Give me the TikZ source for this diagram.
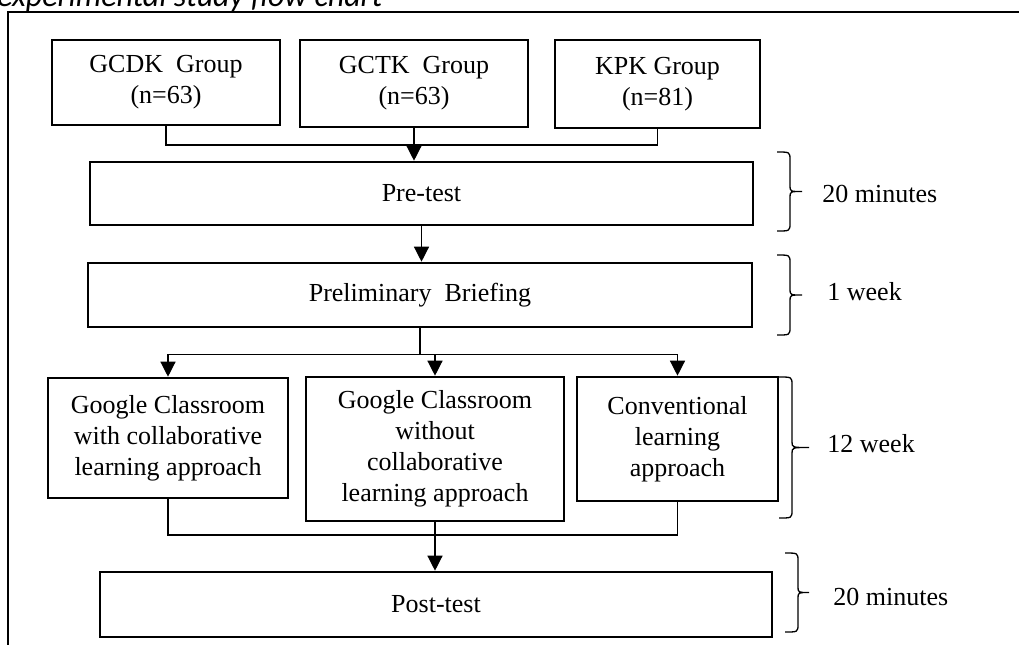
\documentclass[tikz,border=0pt]{standalone}
\usepackage{fontspec}
\setmainfont{Liberation Serif}
\newfontfamily\captionfont{Carlito}
\usepackage{tikz}
\usetikzlibrary{arrows.meta}
\newcommand{\timebrace}[4]{%
  \pgfmathsetmacro\bx{#1+13}\pgfmathsetmacro\bm{(#2+#3)/2}%
  \pgfmathsetmacro\ba{#2+8}\pgfmathsetmacro\bb{\bm-6}%
  \pgfmathsetmacro\bc{\bm+6}\pgfmathsetmacro\bd{#3-8}%
  \draw[line width=0.65pt] (#1,#2) .. controls (\bx,#2) .. (\bx,\ba) -- (\bx,\bb)
    .. controls (\bx,\bm) .. (#4,\bm) .. controls (\bx,\bm) .. (\bx,\bc) -- (\bx,\bd)
    .. controls (\bx,#3) .. (#1,#3);}

\begin{document}
\begin{tikzpicture}[x=0.5pt,y=-0.5pt,>={Triangle[length=7.5pt,width=7.5pt]},
  box/.style={draw,line width=1.3pt,inner sep=0pt,align=center,font=\fontsize{13}{15.5}\selectfont},
  link/.style={line width=0.65pt},
  durlabel/.style={anchor=west,inner sep=1pt,font=\fontsize{13}{15}\selectfont}]
  \useasboundingbox (0,0) rectangle (1019,644);
  \draw[line width=1pt] (8,660) -- (8,12) -- (1030,12);
  \node[anchor=base west,inner sep=0pt,font=\captionfont\itshape\fontsize{16}{18}\selectfont] (title) at (-3,6) {experimental study flow chart};

  \node[box,minimum width=114pt,minimum height=42.5pt] (gcdk) at (166,82.5) {GCDK~~Group\\(n=63)};
  \node[box,minimum width=114pt,minimum height=43.5pt] (gctk) at (414,83.5) {GCTK~~Group\\(n=63)};
  \node[box,minimum width=102.5pt,minimum height=44pt] (kpk) at (657.5,84) {KPK Group\\(n=81)};
  \node[box,minimum width=331.5pt,minimum height=31.5pt] (pre) at (421.5,193.5) {Pre-test};
  \node[box,minimum width=332pt,minimum height=32pt] (brief) at (420,295) {Preliminary~~Briefing};
  \node[box,minimum width=120pt,minimum height=60pt] (gcw) at (168,438) {Google Classroom\\with collaborative\\learning approach};
  \node[box,minimum width=129pt,minimum height=72pt] (gcwo) at (435,449) {Google Classroom\\without\\collaborative\\learning approach};
  \node[box,minimum width=100.5pt,minimum height=62pt] (conv) at (677.5,439) {Conventional\\learning\\approach};
  \node[box,minimum width=336pt,minimum height=32.5pt] (post) at (436,604.5) {Post-test};

  \coordinate (join) at (414,145);
  \coordinate (merge) at (436,535);
  \draw[link] (gcdk.south) |- (join) -| (kpk.south);
  \draw[link,->] (gctk.south) -- (gctk.south |- pre.north);
  \draw[link,->] (pre.south) -- (pre.south |- brief.north);
  \draw[link] (brief.south) -- ++(0,26) coordinate (split);
  \draw[link,->] (split) -| (gcw.north);
  \draw[link,->] (split) -| (conv.north);
  \draw[link,->] (split -| gcwo.north) -- (gcwo.north);
  \draw[link] (gcw.south) |- (merge) -| (conv.south);
  \draw[link,->] (gcwo.south) -- (gcwo.south |- post.north);

  \timebrace{777}{152}{231}{802}
  \timebrace{777}{255}{335}{802}
  \timebrace{779}{377}{518}{809}
  \timebrace{785}{553}{632}{809}
  \node[durlabel] (d1) at (820,194) {20 minutes};
  \node[durlabel] (d2) at (825,292) {1 week};
  \node[durlabel] (d3) at (825,444) {12 week};
  \node[durlabel] (d4) at (831,597) {20 minutes};
\end{tikzpicture}
\end{document}
